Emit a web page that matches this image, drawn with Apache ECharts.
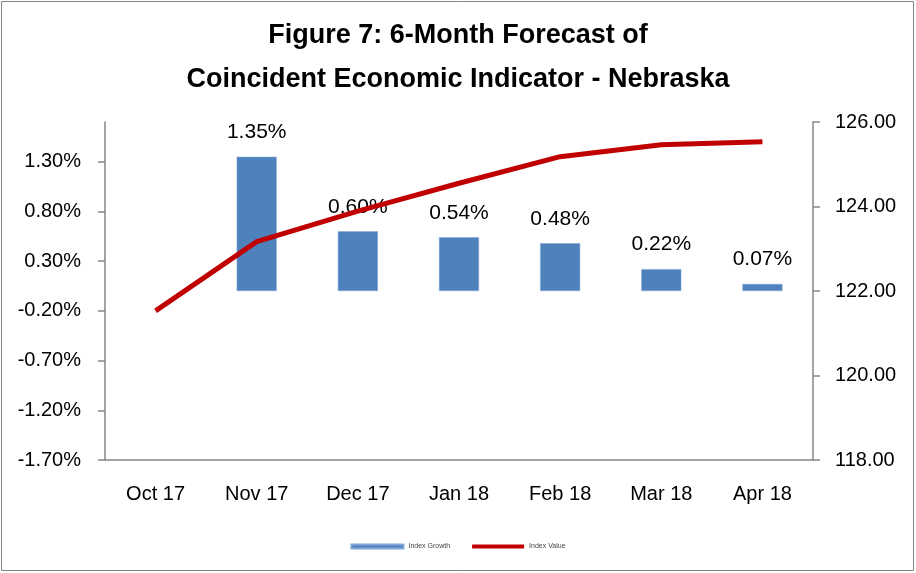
<!DOCTYPE html>
<html>
<head>
<meta charset="utf-8">
<script src="https://cdn.jsdelivr.net/npm/echarts@6/dist/echarts.min.js"></script>
<style>
  html, body { margin: 0; padding: 0; background: #fff; }
  #chart { width: 916px; height: 573px; }
</style>
</head>
<body>
<div id="chart"></div>
<script>
"use strict";

// chart data
const months = ["Oct 17", "Nov 17", "Dec 17", "Jan 18", "Feb 18", "Mar 18", "Apr 18"];
const indexGrowth = [null, 1.35, 0.60, 0.54, 0.48, 0.22, 0.07];
const indexValue = [121.53, 123.17, 123.89, 124.55, 125.18, 125.46, 125.53];
const growthTicks = [-1.7, -1.2, -0.7, -0.2, 0.3, 0.8, 1.3];
const titleLines = ["Figure 7: 6-Month Forecast of", "Coincident Economic Indicator - Nebraska"];

const font = '"Liberation Sans", sans-serif';
const axisColor = "#868686";

const chart = echarts.init(document.getElementById("chart"));

chart.setOption({
	animation: false,
	textStyle: { fontFamily: font },
	title: {
		text: titleLines.join("\n"),
		left: "center",
		top: 9,
		textStyle: { fontFamily: font, fontSize: 27, fontWeight: "bold", color: "#000", lineHeight: 44 }
	},
	legend: {
		top: 538,
		left: "center",
		itemWidth: 52,
		itemHeight: 4,
		itemGap: 22,
		textStyle: { fontSize: 7, color: "#444", fontFamily: font },
		data: [
			{ name: "Index Growth", icon: "rect" },
			{ name: "Index Value", icon: "rect" }
		]
	},
	graphic: [{
		type: "rect",
		shape: { x: 1.5, y: 1.5, width: 912, height: 569 },
		style: { fill: "none", stroke: axisColor, lineWidth: 1 },
		silent: true
	}],
	grid: { left: 105, right: 103, top: 122, bottom: 113 },
	xAxis: {
		type: "category",
		data: months,
		axisLine: { onZero: false, lineStyle: { color: axisColor, width: 1.5 } },
		axisTick: { show: false },
		axisLabel: { fontSize: 20, color: "#000", margin: 24 }
	},
	yAxis: [{
		type: "value",
		min: -1.7,
		max: 1.7,
		splitLine: { show: false },
		axisLine: { show: true, lineStyle: { color: axisColor, width: 1.5 } },
		axisTick: { show: true, length: 7, lineStyle: { color: axisColor, width: 1.5 }, customValues: growthTicks },
		axisLabel: {
			fontSize: 20, color: "#000", margin: 24,
			customValues: growthTicks,
			formatter: (v) => v.toFixed(2) + "%"
		}
	}, {
		type: "value",
		min: 118,
		max: 126,
		interval: 2,
		splitLine: { show: false },
		axisLine: { show: true, lineStyle: { color: axisColor, width: 1.5 } },
		axisTick: { show: true, length: 7, lineStyle: { color: axisColor, width: 1.5 } },
		axisLabel: { fontSize: 20, color: "#000", margin: 22, formatter: (v) => v.toFixed(2) }
	}],
	series: [{
		name: "Index Growth",
		type: "bar",
		data: indexGrowth,
		barWidth: 40,
		itemStyle: { color: "#4F81BD", borderColor: "#7EA6D8", borderWidth: 0.5 },
		label: {
			show: true,
			position: "top",
			distance: 14,
			fontSize: 21,
			color: "#000",
			formatter: (p) => p.value.toFixed(2) + "%"
		}
	}, {
		name: "Index Value",
		type: "line",
		yAxisIndex: 1,
		data: indexValue,
		symbol: "none",
		color: "#C00000",
		lineStyle: { color: "#C00000", width: 5 },
		z: 3
	}]
});
</script>
</body>
</html>
